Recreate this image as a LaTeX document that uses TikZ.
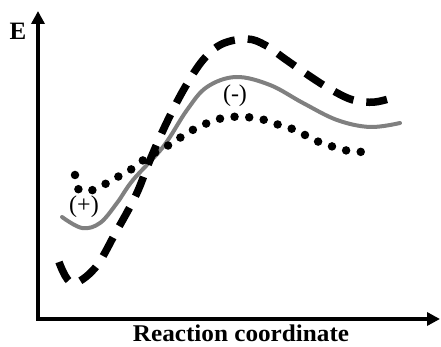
\documentclass[tikz,border=0pt]{standalone}
\usepackage{fontspec}
\setmainfont{Liberation Serif}
\usetikzlibrary{arrows.meta}
\begin{document}
\begin{tikzpicture}[x=1pt,y=-1pt,
  axis/.style={line width=3.6pt,-{Triangle[length=13pt,width=13pt]}},
  solidcurve/.style={line width=4pt,color=black!50,line cap=round},
  dashcurve/.style={line width=7.5pt,dash pattern=on 21pt off 13pt},
  dotcurve/.style={line width=8.5pt,line cap=round,dash pattern=on 0pt off 14.7pt},
  lbl/.style={inner sep=0pt,font=\fontsize{24}{26}\selectfont}]
\useasboundingbox (0,0) rectangle (441,347);
\coordinate (origin) at (38,319);
\coordinate (ytip) at (38,11);
\coordinate (xtip) at (440,319);
\draw[axis] ([yshift=-1.8pt]origin) -- (ytip);
\draw[axis] ([xshift=-1.8pt]origin) -- (xtip);
\node[inner sep=0pt,font=\bfseries\fontsize{25}{27}\selectfont] (E) at (18,31) {E};
\node[inner sep=0pt,anchor=base,font=\bfseries\fontsize{24}{26}\selectfont,xscale=1.05] (xl) at (241,341) {Reaction coordinate};
% solid gray
\draw[solidcurve] plot[smooth,tension=0.6] coordinates {(62,217) (82,228) (100,223) (117,203) (133,180) (163,147) (187,110) (207,87) (236,77) (270,85) (303,103) (337,120) (370,127) (400,123)};
% dashed
\draw[dashcurve] plot[smooth,tension=0.6] coordinates {(59,262) (72,283) (95,268) (116,232) (136,195) (150,160) (166,124) (184,89) (203,60) (222,44) (247,39) (265,45) (285,59) (308,75) (330,89) (353,100) (375,102) (398,96)};
% dotted
\draw[dotcurve] plot[smooth,tension=0.55] coordinates {(75,175) (79,190) (93,190) (107,183) (121,175) (135,167) (147,157) (160,150) (174,142) (187,133) (201,126) (215,120) (230,117) (245,117) (261,119) (276,124) (290,128) (305,135) (319,142) (334,147) (349,151) (365,152)};
\node[lbl] (plus) at (84,207) {(+)};
\node[lbl] (minus) at (235,96) {(-)};
\end{tikzpicture}
\end{document}
